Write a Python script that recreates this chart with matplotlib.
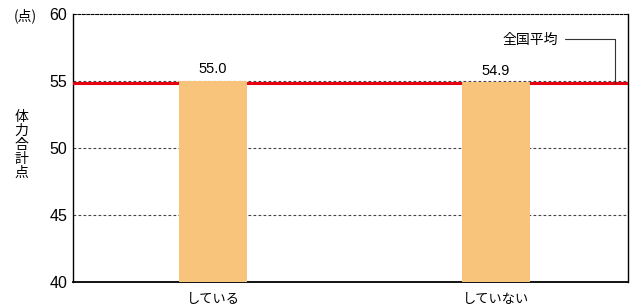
import matplotlib.pyplot as plt

plt.rcParams['font.family'] = ['Noto Sans CJK JP', 'DejaVu Sans']

categories = ['している', 'していない']
values = [55.0, 54.9]
national_avg = 54.83
yticks = [40, 45, 50, 55, 60]

fig = plt.figure(figsize=(6.39, 3.08), dpi=100)
ax = fig.add_axes([0.1142, 0.0844, 0.8686, 0.8701])

x = range(len(categories))
ax.bar(x, values, width=0.24, color='#F8C47C', zorder=4)
for xi, v in zip(x, values):
    ax.text(xi, v + 0.35, f'{v:.1f}', ha='center', va='bottom', fontsize=10.5, family='Liberation Sans')

for y in yticks[1:-1]:
    ax.axhline(y, color='#444444', linestyle=(0, (2.5, 2)), linewidth=0.8, zorder=1)
ax.axhline(national_avg, color='#E60012', linewidth=2.2, zorder=3)

ax.set_xlim(-0.495, 1.466)
ax.set_ylim(40, 60)
ax.set_yticks(yticks)
ax.set_yticklabels([str(t) for t in yticks], family='Liberation Sans', fontsize=11.5)
ax.set_xticks(list(x))
ax.set_xticklabels(categories, fontsize=9.5)
ax.tick_params(axis='both', length=0, pad=4)
ax.tick_params(axis='x', pad=8)

for s in ['left', 'right']:
    ax.spines[s].set_linewidth(1.0)
ax.spines['top'].set_linestyle((0, (2.5, 1.5)))
ax.spines['top'].set_linewidth(0.8)
ax.spines['bottom'].set_linewidth(1.3)

# national average callout
ax.annotate('全国平均', xy=(1.42, national_avg), xytext=(1.22, 58.1),
            ha='right', va='center', fontsize=10,
            arrowprops=dict(arrowstyle='-', color='#333333', lw=0.8,
                            connectionstyle='angle,angleA=0,angleB=90,rad=0',
                            shrinkA=3, shrinkB=0))

fig.text(0.022, 0.948, '(点)', fontsize=10, va='center', ha='left')
fig.text(0.034, 0.53, '体\n力\n合\n計\n点', fontsize=10, va='center', ha='center', linespacing=1.0)

fig.savefig('out.png', dpi=100)
